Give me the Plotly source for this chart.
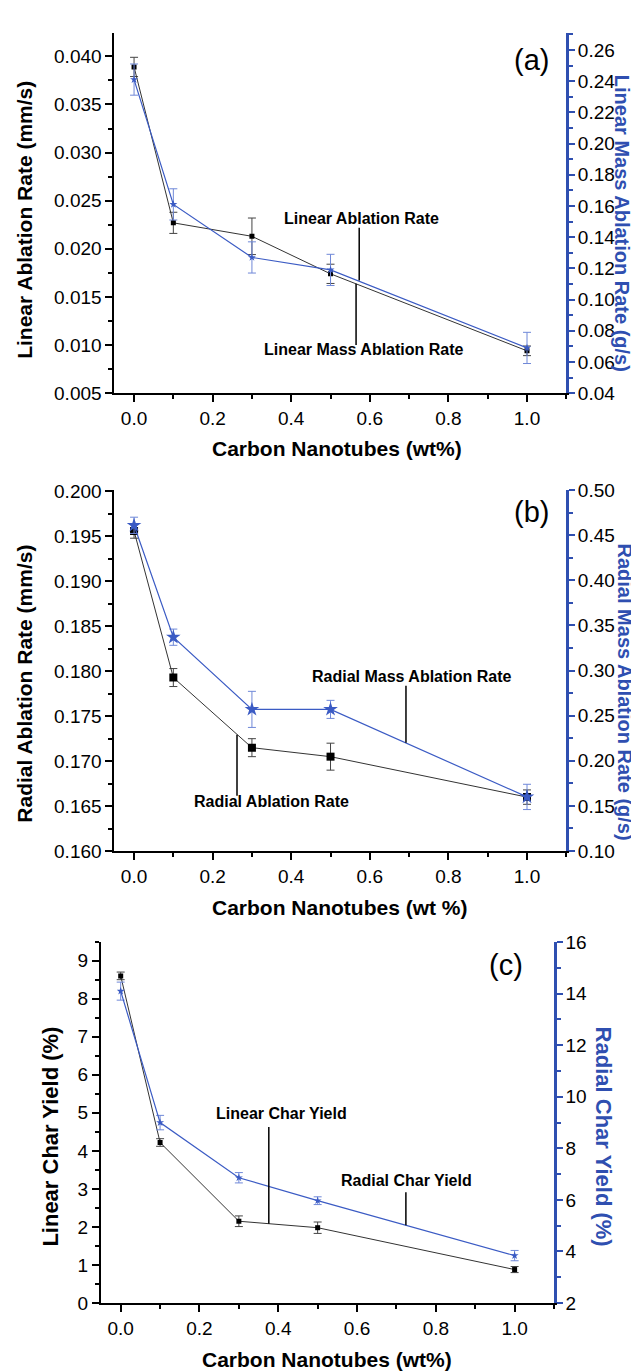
import plotly.graph_objects as go

# ---------------- data ----------------
cnt = [0.0, 0.1, 0.3, 0.5, 1.0]

# (a)
lin_abl = [0.0389, 0.0227, 0.0213, 0.0174, 0.0094]
lin_abl_err = [0.0010, 0.0011, 0.0019, 0.0010, 0.0005]
lin_mass = [0.241, 0.161, 0.127, 0.119, 0.069]
lin_mass_err = [0.010, 0.010, 0.010, 0.010, 0.010]

# (b)
rad_abl = [0.1956, 0.1793, 0.1715, 0.1705, 0.1660]
rad_abl_err = [0.0008, 0.0010, 0.0010, 0.0015, 0.0008]
rad_mass = [0.461, 0.337, 0.257, 0.257, 0.160]
rad_mass_err = [0.009, 0.009, 0.020, 0.010, 0.014]

# (c)
lin_char = [8.60, 4.22, 2.15, 1.98, 0.88]
lin_char_err = [0.10, 0.10, 0.14, 0.15, 0.08]
rad_char = [14.1, 9.0, 6.86, 5.97, 3.84]
rad_char_err = [0.35, 0.28, 0.20, 0.15, 0.20]

W, H = 639, 1372
FONT = "Liberation Sans, Arial, sans-serif"
BLUE = "#3b5bc4"
BLUE_AX = "#2f4fb0"
BLUE_ERR = "#6f88d8"

def px(x):
    return x / W

def py(y):
    return 1 - y / H

fig = go.Figure()

def add_pair(xa, ya_l, ya_r, yl, el, yr, er, msq, mst, sym_r):
    fig.add_trace(go.Scatter(
        x=cnt, y=yl, xaxis=xa, yaxis=ya_l, mode="lines+markers",
        line=dict(color="#333333", width=1),
        marker=dict(symbol="square", size=msq, color="black"),
        error_y=dict(type="data", array=el, color="#444444", thickness=1, width=4),
        showlegend=False))
    fig.add_trace(go.Scatter(
        x=cnt, y=yr, xaxis=xa, yaxis=ya_r, mode="lines+markers",
        line=dict(color=BLUE, width=1.2),
        marker=dict(symbol=sym_r, size=mst, color=BLUE),
        error_y=dict(type="data", array=er, color=BLUE_ERR, thickness=1, width=4),
        showlegend=False))

add_pair("x", "y", "y2", lin_abl, lin_abl_err, lin_mass, lin_mass_err, 5, 6, "star")
add_pair("x2", "y3", "y4", rad_abl, rad_abl_err, rad_mass, rad_mass_err, 8, 11, "star")
add_pair("x3", "y5", "y6", lin_char, lin_char_err, rad_char, rad_char_err, 5, 6, "star")

tickfont = dict(family=FONT, size=19, color="black")

def xax(dom, anchor):
    return dict(domain=dom, anchor=anchor, range=[-0.05, 1.1], dtick=0.2, tick0=0,
                tickformat=".1f", showline=True, linecolor="black", linewidth=2,
                ticks="outside", ticklen=7, tickwidth=2, tickcolor="black",
                minor=dict(dtick=0.1, ticks="outside", ticklen=4, tickwidth=2, tickcolor="black"),
                showgrid=False, zeroline=False, tickfont=tickfont)

def yax_l(dom, anchor, rng, dt, mdt, fmt):
    return dict(domain=dom, anchor=anchor, range=rng, dtick=dt, tick0=0, tickformat=fmt,
                showline=True, linecolor="black", linewidth=2,
                ticks="outside", ticklen=7, tickwidth=2, tickcolor="black",
                minor=dict(dtick=mdt, ticks="outside", ticklen=4, tickwidth=2, tickcolor="black"),
                showgrid=False, zeroline=False, tickfont=tickfont)

def yax_r(over, anchor, rng, dt, mdt, fmt):
    return dict(overlaying=over, anchor=anchor, side="right", range=rng, dtick=dt, tick0=0,
                tickformat=fmt, showline=True, linecolor=BLUE_AX, linewidth=2.5,
                ticks="outside", ticklen=6, tickwidth=2, tickcolor=BLUE_AX,
                ticklabelstandoff=-1,
                minor=dict(dtick=mdt, ticks="outside", ticklen=4, tickwidth=2, tickcolor=BLUE_AX),
                showgrid=False, zeroline=False, tickfont=tickfont)

dom_a_x = [px(106.4), px(558.3)]
dom_c_x = [px(93), px(546)]

fig.update_layout(
    width=W, height=H, margin=dict(l=0, r=0, t=0, b=0),
    paper_bgcolor="white", plot_bgcolor="white",
    font=dict(family=FONT, color="black"),
    xaxis=xax(dom_a_x, "y"),
    yaxis=yax_l([py(381), py(15)], "x", [0.005, 0.04245], 0.005, 0.0025, ".3f"),
    yaxis2=yax_r("y", "x", [0.04, 0.271], 0.02, 0.01, ".2f"),
    xaxis2=xax(dom_a_x, "y3"),
    yaxis3=yax_l([py(846), py(479)], "x2", [0.16, 0.2002], 0.005, 0.0025, ".3f"),
    yaxis4=yax_r("y3", "x2", [0.10, 0.5005], 0.05, 0.025, ".2f"),
    xaxis3=xax(dom_c_x, "y5"),
    yaxis5=yax_l([py(1305), py(938)], "x3", [0, 9.5], 1, 0.5, "d"),
    yaxis6=yax_r("y5", "x3", [2, 16.02], 2, 1, "d"),
)

ann = []
def label(x, y, text, size, angle=0, color="black", bold=True):
    t = f"<b>{text}</b>" if bold else text
    ann.append(dict(x=px(x), y=py(y), xref="paper", yref="paper", text=t, showarrow=False,
                    textangle=angle, xanchor="center", yanchor="middle",
                    font=dict(family=FONT, size=size, color=color)))

# axis titles
label(17, 205, "Linear Ablation Rate (mm/s)", 21, -90)
label(614, 208, "Linear Mass Ablation Rate (g/s)", 20, 90, BLUE_AX)
label(329, 437, "Carbon Nanotubes (wt%)", 21)
label(17, 676, "Radial Ablation Rate (mm/s)", 21, -90)
label(617, 684, "Radial Mass Ablation Rate (g/s)", 20, 90, BLUE_AX)
label(332, 903, "Carbon Nanotubes (wt %)", 21)
label(43, 1136, "Linear Char Yield (%)", 22, -90)
label(595, 1136, "Radial Char Yield (%)", 22, 90, BLUE_AX)
label(319, 1362, "Carbon Nanotubes (wt%)", 21)

# panel labels
label(523, 43, "(a)", 29, bold=False)
label(523, 502, "(b)", 29, bold=False)
label(498, 962, "(c)", 29, bold=False)

# curve labels
label(353, 204, "Linear Ablation Rate", 16)
label(356, 337, "Linear Mass Ablation Rate", 16)
label(404, 669, "Radial Mass Ablation Rate", 16)
label(263, 796, "Radial Ablation Rate", 16)
label(273, 1113, "Linear Char Yield", 16)
label(398, 1181, "Radial Char Yield", 16)

fig.update_layout(annotations=ann)

# pointer lines (data coordinates)
ptr = [
    ("x", "y", 0.573, 0.0222, 0.0167),
    ("x", "y", 0.565, 0.01636, 0.0100),
    ("x2", "y4", 0.692, 0.2831, 0.2199),
    ("x2", "y3", 0.262, 0.17294, 0.16615),
    ("x3", "y5", 0.376, 4.63, 2.085),
    ("x3", "y6", 0.724, 6.30, 5.016),
]
for xr, yr, xv, y0, y1 in ptr:
    fig.add_shape(type="line", xref=xr, yref=yr, x0=xv, x1=xv, y0=y0, y1=y1,
                  line=dict(color="black", width=1.5))

fig.write_html("out.html")
